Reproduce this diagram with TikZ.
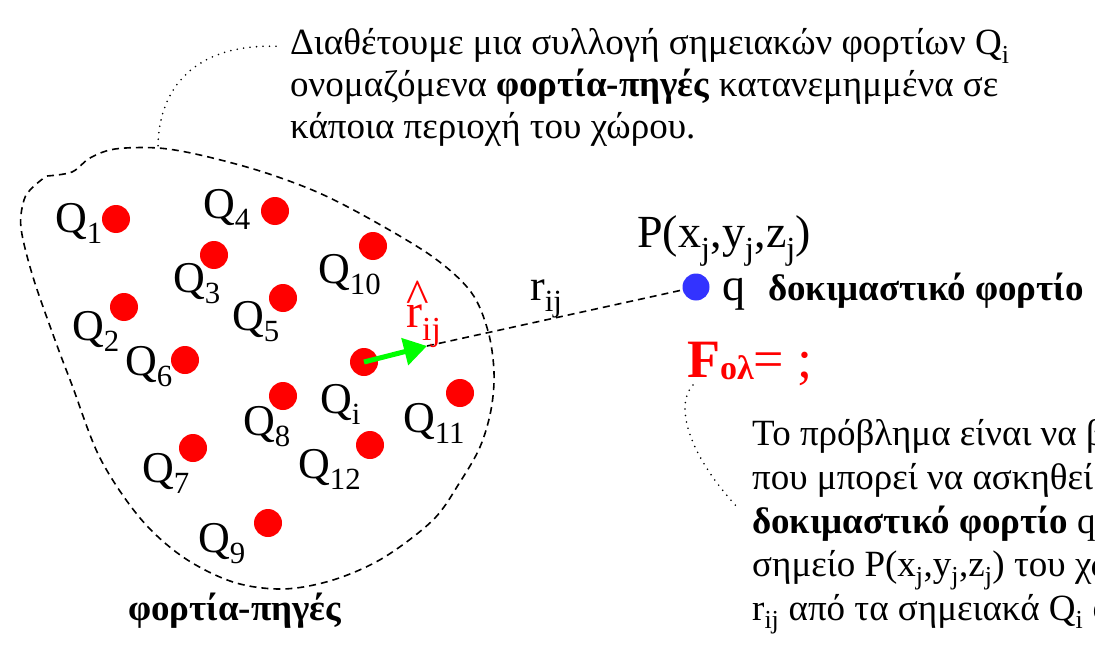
\documentclass[tikz,border=0pt]{standalone}
\usepackage{fontspec}
\setmainfont{Liberation Serif}
\usepackage{tikz}
\usetikzlibrary{arrows.meta, positioning, calc}
\definecolor{chargered}{RGB}{255,0,0}
\definecolor{probeblue}{RGB}{51,51,255}
\definecolor{unitgreen}{RGB}{0,255,0}

\begin{document}
\begin{tikzpicture}[x=1pt, y=-1pt,
    charge/.style={circle, fill=chargered, minimum size=28pt, inner sep=0pt},
    probe/.style={circle, fill=probeblue, minimum size=27pt, inner sep=0pt},
    qlabel/.style={anchor=base west, inner sep=0pt, font=\fontsize{44}{48}\selectfont},
    body/.style={anchor=base west, inner sep=0pt, font=\fontsize{37}{42}\selectfont},
    boldbody/.style={anchor=base west, inner sep=0pt, font=\fontsize{37}{42}\selectfont\bfseries},
    blobline/.style={line width=1.6pt, dash pattern=on 7pt off 5pt},
    callout/.style={line width=1.8pt, dash pattern=on 0pt off 6.5pt, line cap=round},
    unitarrow/.style={draw=unitgreen, line width=5pt, -{Triangle[length=23pt, width=27pt]}}]
    \useasboundingbox (0,0) rectangle (1095,650);
    \clip (0,0) rectangle (1095,650);

    % Region of the source charges
    \draw[blobline] plot[smooth, tension=0.55] coordinates {
        (47,176) (72,172) (90,158) (115,149) (158,148) (200,155) (260,171)
        (317,192) (370,219) (433,257) (471,292) (488,331) (494,372) (491,410)
        (480,447) (460,482) (433,520) (383,558) (333,580) (283,589) (233,582)
        (183,557) (140,518) (100,458) (72,385) (55,340) (33,277) (21,228)
        (24,200) (32,188) (45,177)};
    \coordinate (blobtop) at (158,148);

    % Point charges
    \foreach \name/\x/\y in {1/116/219, 4/275/211, 3/214/255, 10/373/246,
        5/283/298, 2/124/307, 6/185/360, i/364/362, 8/283/396, 11/460/393,
        7/193/448, 12/370/445, 9/268/523} {
        \node[charge] (dot\name) at (\x,\y) {};
    }
    \foreach \name/\x/\y in {1/55/232, 4/203/218, 3/173/292, 10/318/283,
        5/232/330, 2/72/340, 6/125/375, i/320/413, 8/243/435, 11/403/432,
        7/142/482, 12/298/478, 9/198/552} {
        \node[qlabel] (lab\name) at (\x,\y) {Q\textsubscript{\name}};
    }
    \node[boldbody] (srclabel) at (128,620) {φορτία-πηγές};

    % Test charge
    \node[probe] (qdot) at (696,287) {};
    \node[qlabel, font=\fontsize{46}{50}\selectfont] (qname) at (722,300) {q};
    \node[boldbody] (qtext) at (768,300) {δοκιμαστικό φορτίο};
    \node[qlabel, font=\fontsize{46}{50}\selectfont] (pos) at (637,247)
        {P(x\textsubscript{j},y\textsubscript{j},z\textsubscript{j})};

    % Distance and unit vector
    \coordinate (rtip) at (427,346);
    \draw[blobline] (rtip) -- (qdot);
    \draw[unitarrow] (doti.center) -- (rtip);
    \node[qlabel] (rdist) at (530,300) {r\textsubscript{ij}};
    \node[qlabel, text=chargered, font=\fontsize{48}{52}\selectfont] (runit) at (406,327)
        {\makebox[0pt][l]{\raisebox{0.3em}{\textasciicircum}}r\textsubscript{ij}};

    % Net force
    \node[qlabel, text=chargered, font=\fontsize{54}{58}\selectfont] (ftot) at (687,377)
        {\textbf{F\raisebox{-2pt}{\fontsize{34}{36}\selectfont ολ}}= ;};

    % Description texts
    \node[body] (top1) at (290,55) {Διαθέτουμε μια συλλογή σημειακών φορτίων Q\textsubscript{i}};
    \node[body] (top2) at (290,97) {ονομαζόμενα \textbf{φορτία-πηγές} κατανεμημμένα σε};
    \node[body] (top3) at (290,139) {κάποια περιοχή του χώρου.};

    \node[body] (bot1) at (752,445) {Το πρόβλημα είναι να β};
    \node[body] (bot2) at (752,489) {που μπορεί να ασκηθεί};
    \node[body] (bot3) at (752,533) {\textbf{δοκιμαστικό φορτίο} q};
    \node[body] (bot4) at (752,576)
        {σημείο P(x\textsubscript{j},y\textsubscript{j},z\textsubscript{j}) του χώ};
    \node[body] (bot5) at (752,620) {r\textsubscript{ij} από τα σημειακά Q\textsubscript{i} φ};

    % Callouts
    \coordinate (fstart) at (693,385);
    \coordinate (bend) at (738,508);
    \draw[callout] ([xshift=-14pt]top1.west) .. controls (195,44) and (158,88) .. (blobtop);
    \draw[callout] (fstart) .. controls (676,402) and (684,450) .. (bend);
\end{tikzpicture}
\end{document}
